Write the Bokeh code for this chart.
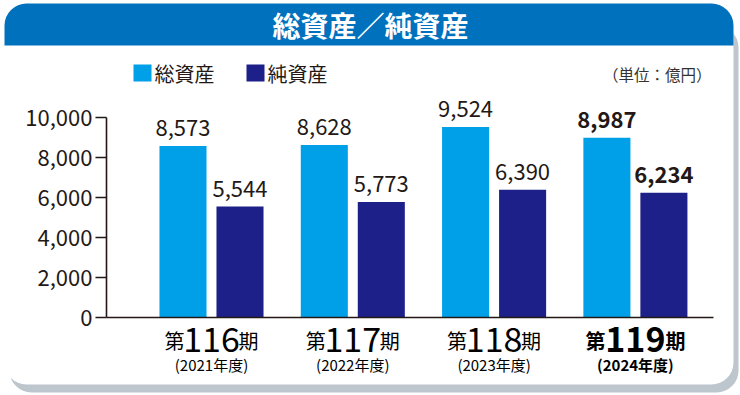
from bokeh.plotting import figure
from bokeh.models import Range1d, BoxAnnotation, NumeralTickFormatter, FixedTicker, LinearAxis
from bokeh.core.properties import value
from bokeh.embed import file_html
from bokeh.resources import INLINE

# ---- data ----
periods = ["116", "117", "118", "119"]
years = ["(2021年度)", "(2022年度)", "(2023年度)", "(2024年度)"]
total_assets = [8573, 8628, 9524, 8987]
net_assets = [5544, 5773, 6390, 6234]
highlight = [False, False, False, True]
y_ticks = [0, 2000, 4000, 6000, 8000, 10000]
series_names = ["総資産", "純資産"]
title_text = "総資産／純資産"
unit_text = "（単位：億円）"

# ---- style ----
LIGHT = "#00A0E9"
DARK = "#1D2088"
HEADER = "#0071BC"
SHADOW = "#BDC5CD"
INK = "#231815"
FONT = "Noto Sans CJK JP"

W_PX, H_PX = 740, 395
# page pixel -> data helpers (axis corner at page x 106, y 317)
X0, SX = 211.0, 141.3
def dx(px):
    return (px - X0) / SX
def dy(py):
    return (317.0 - py) * 50.0

p = figure(width=W_PX, height=H_PX,
           x_range=Range1d(dx(0), dx(W_PX)), y_range=Range1d(dy(H_PX), dy(0)),
           min_border=0, x_axis_location=None, y_axis_location=None,
           output_backend="svg", toolbar_location=None)
p.outline_line_color = None
p.background_fill_color = "white"
p.border_fill_color = "white"
p.grid.visible = False

# ---- panel decoration ----
p.add_layout(BoxAnnotation(left=dx(9), right=dx(738), top=dy(25), bottom=dy(392),
                           fill_color=SHADOW, fill_alpha=1, line_color=None,
                           border_radius=22, level="underlay"))
p.add_layout(BoxAnnotation(left=dx(4), right=dx(733), top=dy(3), bottom=dy(384),
                           fill_color="white", fill_alpha=1, line_color=None,
                           border_radius=22, level="underlay"))
p.add_layout(BoxAnnotation(left=dx(4), right=dx(733), top=dy(3), bottom=dy(45),
                           fill_color=HEADER, fill_alpha=1, line_color=None,
                           border_radius=(22, 22, 0, 0), level="underlay"))

def txt(xs, ys, texts, size, color=INK, style="normal", align="center"):
    p.text(x=xs, y=ys, text=texts, text_color=color, text_font=value(FONT),
           text_font_size=value(size), text_font_style=value(style),
           text_align=value(align), text_baseline=value("middle"))

txt([dx(370)], [dy(24)], [title_text], "28px", color="white", style="bold")

# ---- legend ----
for name, col, sq_left in zip(series_names, [LIGHT, DARK], [133, 246]):
    p.add_layout(BoxAnnotation(left=dx(sq_left), right=dx(sq_left + 18), top=dy(64), bottom=dy(81),
                               fill_color=col, fill_alpha=1, line_color=None, level="glyph"))
    txt([dx(sq_left + 21)], [dy(73)], [name], "20px", align="left")
txt([dx(711)], [dy(73)], [unit_text], "15.5px", color="#333333", align="right")

# ---- bars ----
xs = list(range(len(periods)))
OFF = 0.2017
W = 0.333
p.vbar(x=[x - OFF for x in xs], top=total_assets, width=W, bottom=0,
       fill_color=LIGHT, line_color=None)
p.vbar(x=[x + OFF for x in xs], top=net_assets, width=W, bottom=0,
       fill_color=DARK, line_color=None)

GAP = 18 * 50.0
for x, t, n, hl in zip(xs, total_assets, net_assets, highlight):
    style = "bold" if hl else "normal"
    txt([x - OFF, x + OFF], [t + GAP, n + GAP], [f"{t:,}", f"{n:,}"], "22px", style=style)

# ---- category labels ----
for x, per, yr, hl in zip(xs, periods, years, highlight):
    style = "bold" if hl else "normal"
    half = (30 if hl else 27) / SX
    txt([x], [dy(339)], [per], "34px", color="black", style=style)
    txt([x - half], [dy(340)], ["第"], "20px", color="black", style=style, align="right")
    txt([x + half], [dy(340)], ["期"], "20px", color="black", style=style, align="left")
    txt([x], [dy(364)], [yr], "15px", color="black", style=style)

# ---- axes (fixed inside the frame) ----
yax = LinearAxis(fixed_location=dx(106), ticker=FixedTicker(ticks=y_ticks),
                 formatter=NumeralTickFormatter(format="0,0"), bounds=(0, 10000))
yax.major_label_text_font = FONT
yax.major_label_text_font_size = "22px"
yax.major_label_text_color = INK
yax.major_label_standoff = 3
yax.major_tick_out = 11
yax.major_tick_in = 0
yax.minor_tick_out = 0
yax.minor_tick_in = 0
yax.axis_line_width = 1.6
yax.major_tick_line_width = 1.4
yax.axis_line_color = INK
yax.major_tick_line_color = INK
p.add_layout(yax, "left")

xax = LinearAxis(fixed_location=0, ticker=FixedTicker(ticks=[]), bounds=(dx(106), dx(713)))
xax.major_tick_out = 0
xax.major_tick_in = 0
xax.minor_tick_out = 0
xax.minor_tick_in = 0
xax.axis_line_width = 1.6
xax.axis_line_color = INK
p.add_layout(xax, "below")

open("out.html", "w").write(file_html(p, INLINE))
